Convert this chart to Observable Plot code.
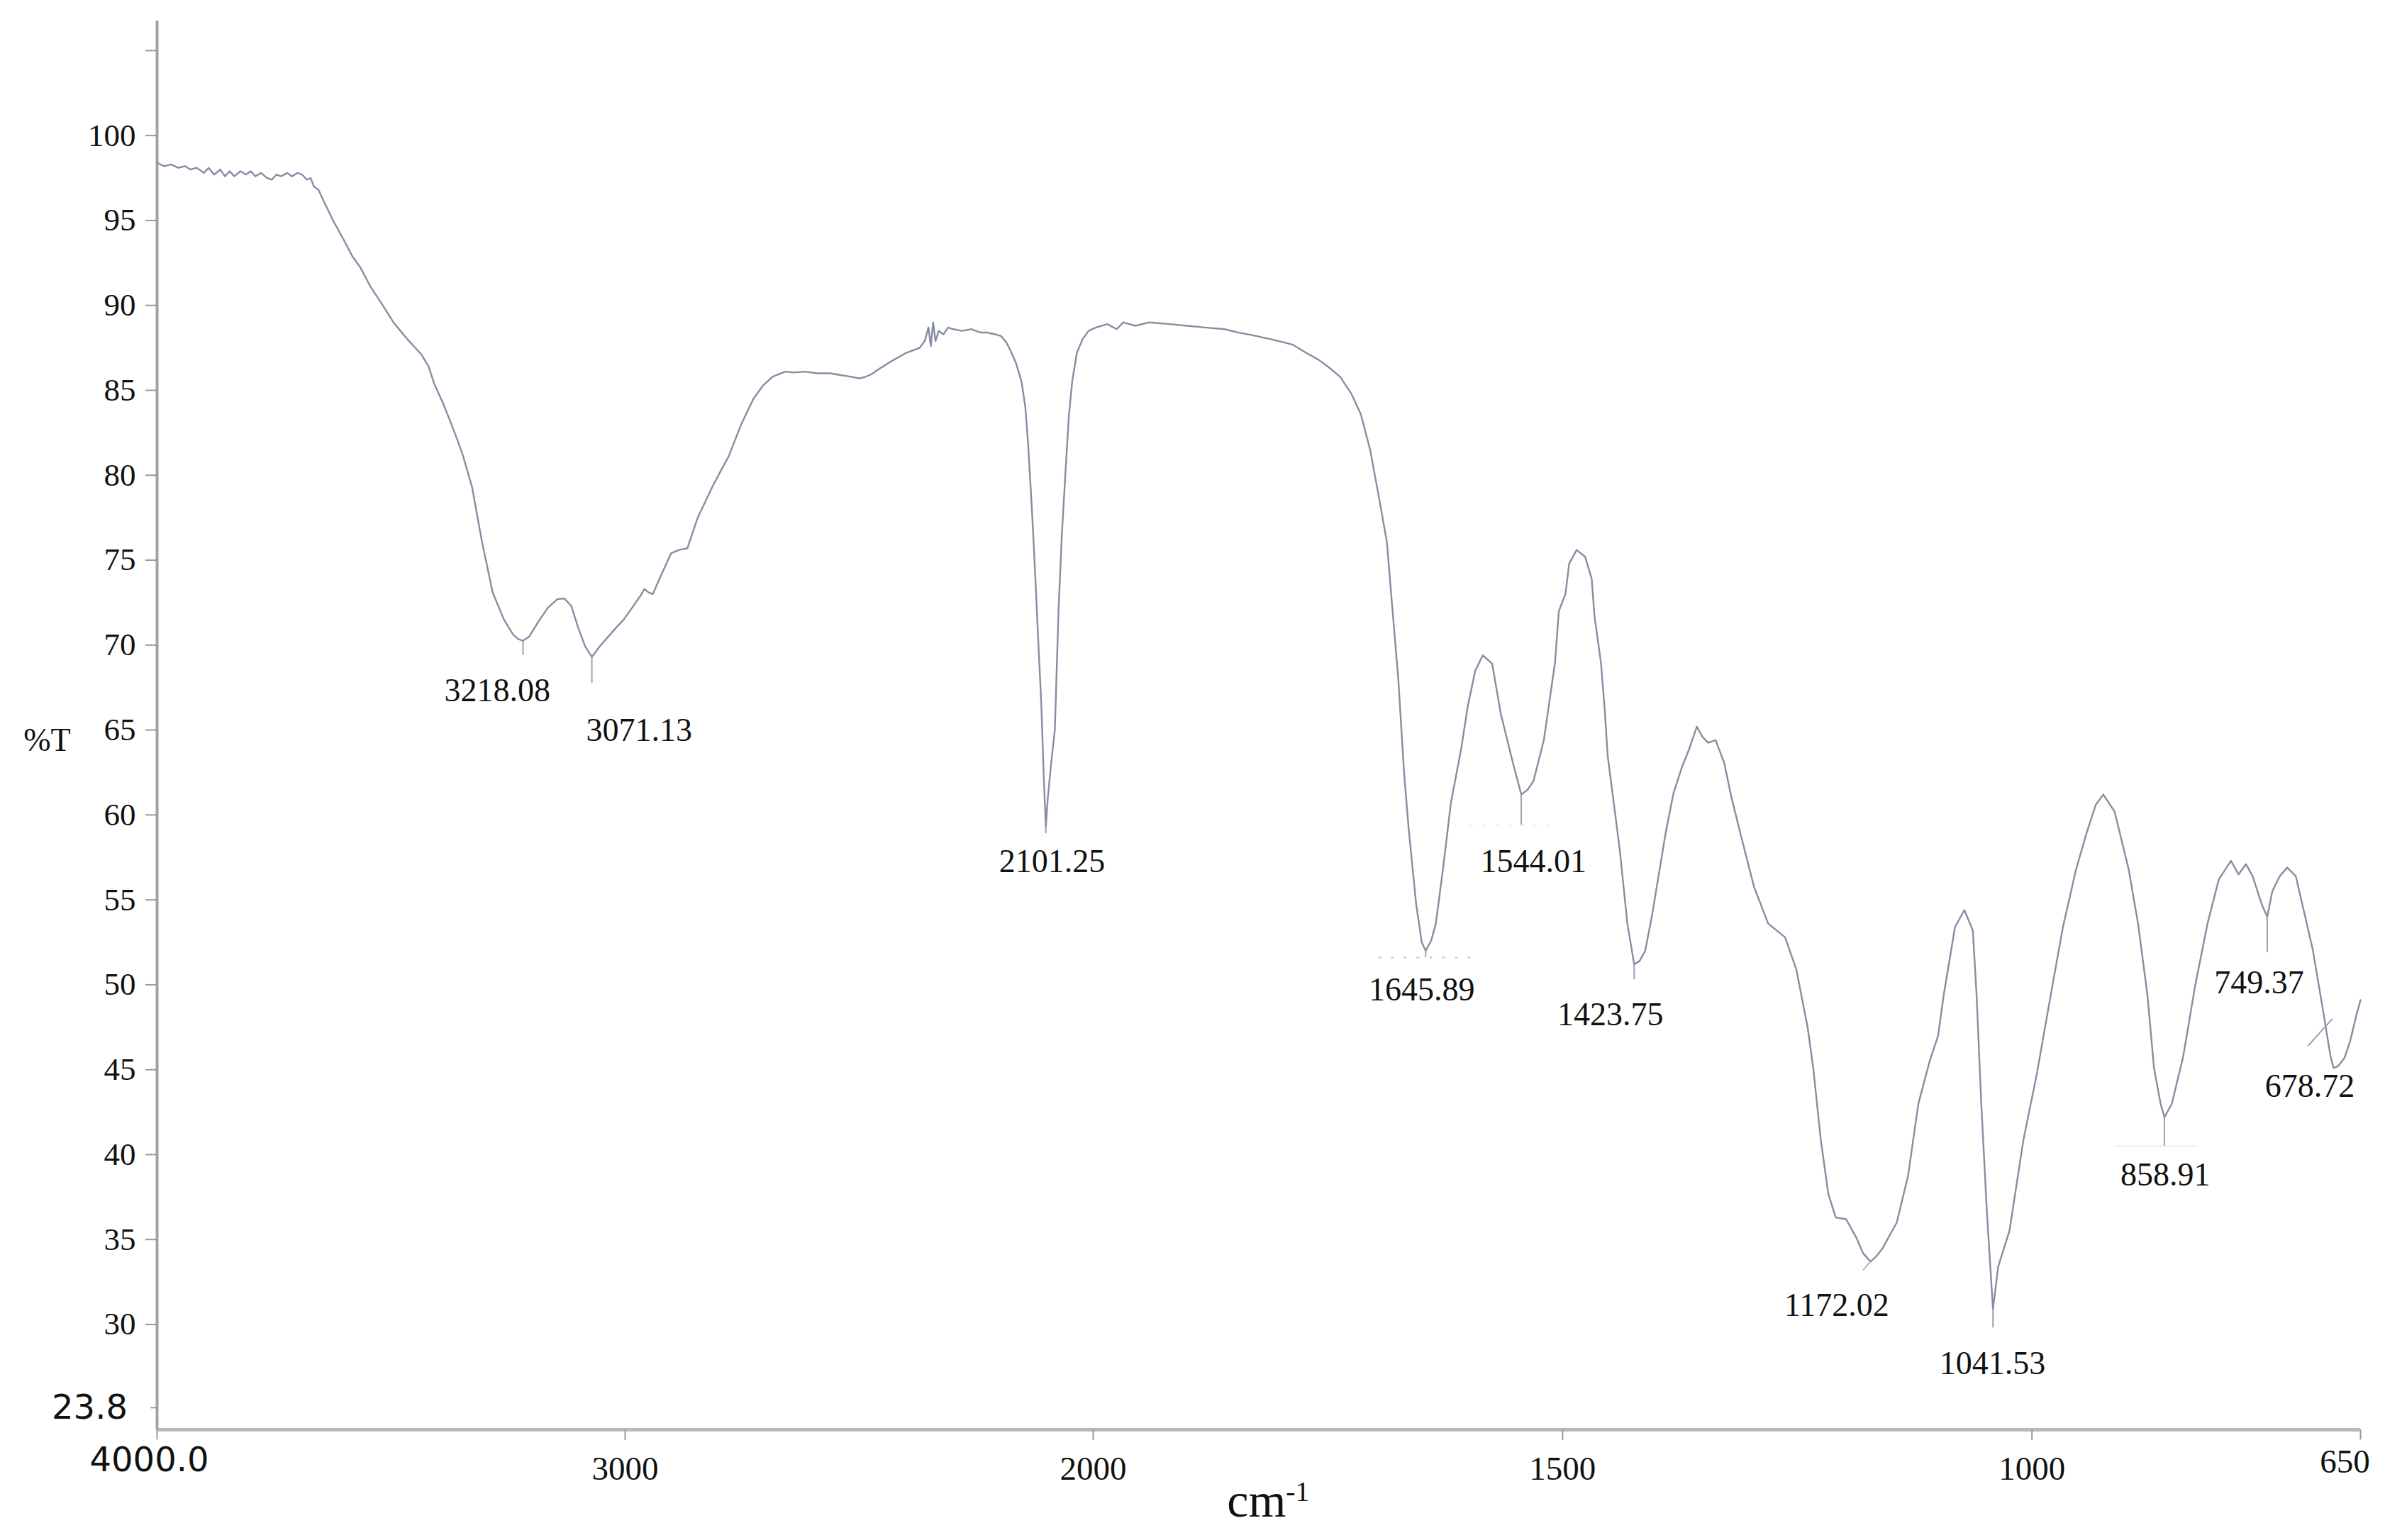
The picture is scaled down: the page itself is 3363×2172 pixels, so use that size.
<!DOCTYPE html>
<html>
<head>
<meta charset="utf-8">
<script src="https://cdn.jsdelivr.net/npm/d3@7"></script>
<script src="https://cdn.jsdelivr.net/npm/@observablehq/plot@0.6"></script>
<style>
  html, body { margin: 0; padding: 0; background: #ffffff; }
  #chart svg { display: block; }
</style>
</head>
<body>
<div id="chart"></div>
<script>
// FTIR spectrum: wavenumber (cm-1) and transmittance (%T)
const wavenumber = [
  4000, 3985, 3970, 3955, 3940, 3929, 3915, 3900, 3890, 3878, 3865, 3855, 3845, 3835, 3822, 3810, 3800, 3790,
  3778, 3765, 3755, 3745, 3735, 3722, 3712, 3700, 3690, 3680, 3672, 3665, 3655, 3645, 3624, 3600, 3583, 3565,
  3544, 3520, 3495, 3465, 3435, 3420, 3408, 3390, 3374, 3360, 3347, 3327, 3306, 3283, 3259, 3239, 3228, 3218,
  3205, 3185, 3165, 3145, 3130, 3115, 3100, 3085, 3071, 3055, 3036, 3020, 3003, 2985, 2965, 2959, 2950, 2941,
  2925, 2902, 2885, 2867, 2845, 2814, 2795, 2779, 2752, 2726, 2705, 2685, 2658, 2640, 2617, 2590, 2562, 2540,
  2517, 2500, 2486, 2473, 2455, 2429, 2400, 2371, 2360, 2352, 2347, 2342, 2337, 2330, 2320, 2310, 2299, 2280,
  2260, 2240, 2226, 2210, 2197, 2185, 2176, 2165, 2153, 2145, 2139, 2131, 2124, 2117, 2111, 2106, 2101.25, 2097,
  2090, 2082, 2074, 2067, 2059, 2052, 2045, 2035, 2023, 2010, 1997, 1985, 1975, 1968, 1955, 1940, 1918, 1900,
  1881, 1860, 1845, 1831, 1810, 1788, 1773, 1760, 1750, 1737, 1725, 1715, 1705, 1694, 1687, 1682, 1675, 1669,
  1664, 1656, 1650, 1645.89, 1640, 1635, 1627, 1619, 1608, 1601, 1593, 1585, 1575, 1566, 1554, 1544.01, 1537,
  1531, 1520, 1515, 1508, 1504, 1497, 1493, 1485, 1476, 1469, 1466, 1459, 1455, 1452, 1445, 1439, 1431, 1423.75,
  1418, 1412, 1405, 1399, 1390, 1382, 1373, 1365, 1357, 1351, 1345, 1337, 1328, 1320, 1311, 1296, 1281, 1263,
  1251, 1239, 1233, 1225, 1217, 1209, 1198, 1187, 1180, 1172.02, 1166, 1159, 1144, 1132, 1121, 1109, 1100, 1094,
  1082, 1072, 1063, 1059, 1054, 1048, 1041.53, 1036, 1024, 1009, 995, 980, 967, 953, 942, 932, 924, 912,
  897, 887, 877, 870, 863, 858.91, 851, 839, 826, 813, 801, 788, 780, 772, 765, 755, 749.37, 744,
  736, 728, 719, 714, 701, 690, 682, 678.72, 674, 667, 661, 654, 650
];
const transmittance = [
  98.4, 98.2, 98.3, 98.1, 98.2, 98.0, 98.1, 97.8, 98.1, 97.7, 98.0, 97.6, 97.9, 97.6, 97.9, 97.7, 97.9, 97.6,
  97.8, 97.5, 97.4, 97.7, 97.6, 97.8, 97.6, 97.8, 97.7, 97.4, 97.5, 97.0, 96.8, 96.2, 95.0, 93.8, 92.9, 92.2,
  91.1, 90.1, 89.0, 88.0, 87.1, 86.4, 85.4, 84.3, 83.2, 82.2, 81.2, 79.3, 76.1, 73.1, 71.5, 70.6, 70.35, 70.25,
  70.5, 71.4, 72.2, 72.7, 72.75, 72.3, 71.0, 69.9, 69.3, 69.9, 70.5, 71.0, 71.5, 72.2, 73.0, 73.3, 73.1, 73.0,
  74.0, 75.4, 75.6, 75.7, 77.5, 79.3, 80.3, 81.1, 83.0, 84.5, 85.3, 85.8, 86.1, 86.05, 86.1, 86.0, 86.0, 85.9,
  85.8, 85.7, 85.8, 85.96, 86.3, 86.75, 87.2, 87.5, 87.9, 88.7, 87.6, 89.0, 87.9, 88.5, 88.3, 88.7, 88.6, 88.5,
  88.6, 88.4, 88.4, 88.3, 88.2, 87.8, 87.3, 86.6, 85.5, 84.0, 81.8, 78.0, 74.2, 70.0, 66.6, 62.5, 59.3, 61.0,
  63.0, 65.0, 72.1, 76.5, 80.3, 83.5, 85.5, 87.2, 88.0, 88.5, 88.7, 88.9, 88.6, 89.0, 88.8, 89.0, 88.9, 88.8,
  88.7, 88.6, 88.4, 88.25, 88.0, 87.7, 87.2, 86.8, 86.4, 85.8, 84.8, 83.6, 81.5, 78.2, 76.0, 72.6, 68.0, 62.6,
  59.2, 54.75, 52.5, 52.0, 52.6, 53.6, 57.0, 60.7, 63.9, 66.4, 68.5, 69.4, 68.9, 66.0, 63.3, 61.2, 61.5,
  62.0, 64.4, 66.3, 69.0, 72.0, 73.0, 74.8, 75.6, 75.2, 73.9, 71.7, 68.9, 66.1, 63.5, 60.5, 57.9, 53.6, 51.2,
  51.4, 52.0, 54.0, 56.0, 59.0, 61.25, 62.8, 63.9, 65.2, 64.6, 64.25, 64.4, 63.1, 61.0, 59.0, 55.75, 53.6, 52.8,
  50.9, 47.5, 45.1, 40.9, 37.7, 36.3, 36.2, 35.1, 34.2, 33.7, 34.0, 34.5, 36.0, 38.75, 43.0, 45.5, 47.0, 49.4,
  53.4, 54.4, 53.2, 49.4, 43.0, 36.6, 30.9, 33.4, 35.5, 40.9, 44.7, 49.4, 53.4, 56.8, 58.9, 60.6, 61.2, 60.2,
  56.8, 53.6, 49.4, 45.1, 43.0, 42.2, 43.0, 45.75, 50.0, 53.6, 56.2, 57.3, 56.5, 57.1, 56.4, 54.7, 54.0, 55.5,
  56.4, 56.9, 56.4, 55.2, 52.1, 48.5, 45.8, 45.1, 45.2, 45.7, 46.7, 48.3, 49.1
];

// axis ticks
const yTicks = [30, 35, 40, 45, 50, 55, 60, 65, 70, 75, 80, 85, 90, 95, 100, 105];
const yTickLabels = ["30", "35", "40", "45", "50", "55", "60", "65", "70", "75", "80", "85", "90", "95", "100", ""];
const xTicks = [3000, 2000, 1500, 1000];
const xTickLabels = ["3000", "2000", "1500", "1000"];
const yMin = 23.8, yMax = 106.75;
const xStart = 4000, xBreak = 2000, xEnd = 650;

// peak annotations
const peakWn     = [3218.08, 3071.13, 2101.25, 1645.89, 1544.01, 1423.75, 1172.02, 1041.53, 858.91, 749.37, 678.72];
const peakLabel  = ["3218.08", "3071.13", "2101.25", "1645.89", "1544.01", "1423.75", "1172.02", "1041.53", "858.91", "749.37", "678.72"];
const labelWn    = [3273, 2970, 2088, 1650, 1531, 1449, 1208, 1042, 858, 758, 704];
const labelT     = [67.3, 64.96, 57.25, 49.7, 57.25, 48.25, 31.1, 27.7, 38.8, 50.1, 44.0];
const tickTopT   = [70.25, 69.3, 59.3, 52.0, 61.2, 51.2, null, 30.9, 42.2, 54.0, null];
const tickBotT   = [69.4, 67.75, 58.9, 51.6, 59.4, 50.3, null, 29.8, 40.5, 51.9, null];

const spectrum = wavenumber.map((w, i) => ({wn: w, t: transmittance[i]}));
const peaks = peakWn.map((w, i) => ({
  wn: w, label: peakLabel[i], lx: labelWn[i], ly: labelT[i], t1: tickTopT[i], t2: tickBotT[i]
}));
const peakTicks = peaks.filter(d => d.t1 != null);

const serif = "Liberation Serif";
const sans = "DejaVu Sans";

const chart = Plot.plot({
  width: 3363,
  height: 2172,
  marginLeft: 221,
  marginRight: 35,
  marginTop: 29,
  marginBottom: 156,
  x: {type: "linear", domain: [xStart, xBreak, xEnd], range: [221, 1541, 3328]},
  y: {type: "linear", domain: [yMin, yMax]},
  style: {background: "white", fontFamily: serif, color: "#111"},
  marks: [
    // axis lines
    Plot.ruleY([yMin], {x1: xStart, x2: xEnd, stroke: "#b9b9b9", strokeWidth: 5}),
    Plot.ruleX([xStart], {y1: yMin, y2: yMax, stroke: "#a2a2a2", strokeWidth: 4}),
    Plot.axisY({
      ticks: yTicks,
      tickFormat: (d) => yTickLabels[yTicks.indexOf(d)],
      tickSize: 16, tickPadding: 14,
      stroke: "#999", strokeWidth: 2,
      fontSize: 45, fontFamily: serif, fill: "#111",
      label: null
    }),
    Plot.axisX({
      ticks: xTicks,
      tickFormat: d => xTickLabels[xTicks.indexOf(d)],
      tickSize: 15, tickPadding: 22,
      stroke: "#999", strokeWidth: 2,
      fontSize: 47, fontFamily: serif, fill: "#111",
      label: null
    }),
    Plot.ruleX([xStart, xEnd], {y1: yMin, y2: 23.2, stroke: "#999", strokeWidth: 2}),
    Plot.ruleY([25.1], {x1: xStart, x2: 4013, stroke: "#999", strokeWidth: 2}),
    // special tick labels
    Plot.text(["4000.0"], {x: [xStart], frameAnchor: "bottom", dx: -11, dy: 58, fontSize: 48, fontFamily: sans, textAnchor: "middle", fill: "#111"}),
    Plot.text(["650"], {x: [xEnd], frameAnchor: "bottom", dx: -22, dy: 60, fontSize: 47, fontFamily: serif, textAnchor: "middle", fill: "#111"}),
    Plot.text(["23.8"], {x: [xStart], y: [yMin], dx: -95, dy: -31, fontSize: 48, fontFamily: sans, textAnchor: "middle", fill: "#111"}),
    // axis titles
    Plot.text(["%T"], {frameAnchor: "left", y: [64.4], dx: -155, fontSize: 46, fontFamily: serif, textAnchor: "middle", fill: "#111"}),
    Plot.text(["cm"], {x: [1826], frameAnchor: "bottom", dy: 122, fontSize: 68, fontFamily: serif, textAnchor: "middle", fill: "#111"}),
    Plot.text(["-1"], {x: [1826], frameAnchor: "bottom", dx: 58, dy: 100, fontSize: 40, fontFamily: serif, textAnchor: "middle", fill: "#111"}),
    // faint baseline marks under some peaks
    Plot.ruleY([51.6], {x1: 1696, x2: 1594, stroke: "#c8c8c8", strokeWidth: 2, strokeDasharray: "4,14"}),
    Plot.ruleY([59.4], {x1: 1598, x2: 1504, stroke: "#ececec", strokeWidth: 2, strokeDasharray: "4,14"}),
    Plot.ruleY([40.5], {x1: 911, x2: 824, stroke: "#eeeeee", strokeWidth: 2}),
    // spectrum
    Plot.line(spectrum, {x: "wn", y: "t", stroke: "#868da2", strokeWidth: 2.4, curve: "linear"}),
    // peak ticks
    Plot.ruleX(peakTicks, {x: "wn", y1: "t1", y2: "t2", stroke: "#9aa0b0", strokeWidth: 2}),
    Plot.link([{x1: 1180, y1: 33.2, x2: 1172.02, y2: 33.7}], {x1: "x1", y1: "y1", x2: "x2", y2: "y2", stroke: "#b0b4c0", strokeWidth: 2}),
    Plot.link([{x1: 706, y1: 46.4, x2: 680, y2: 48.0}], {x1: "x1", y1: "y1", x2: "x2", y2: "y2", stroke: "#9aa0b0", strokeWidth: 2}),
    // peak labels
    Plot.text(peaks, {x: "lx", y: "ly", text: "label", fontSize: 46, fontFamily: serif, fill: "#111", textAnchor: "middle", lineAnchor: "middle"})
  ]
});
document.getElementById("chart").appendChild(chart);
</script>
</body>
</html>
